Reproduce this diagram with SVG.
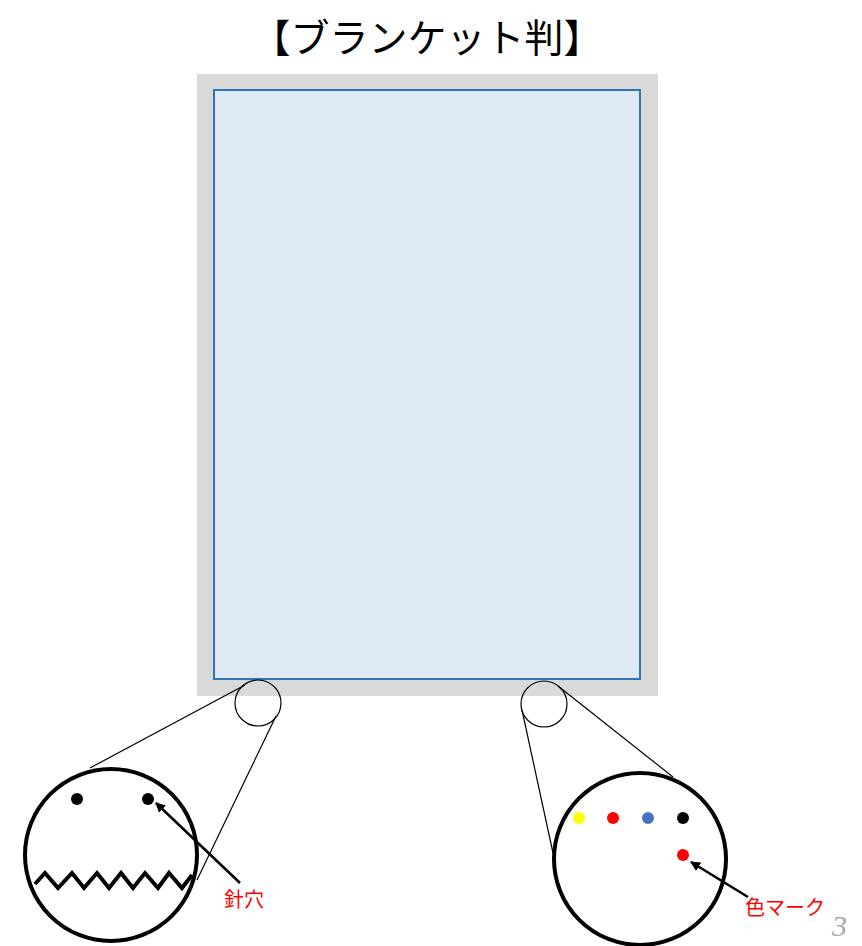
<svg xmlns="http://www.w3.org/2000/svg" width="862" height="946" viewBox="0 0 862 946">
<defs>
<style>
.thin{fill:none;stroke:#000;stroke-width:1.2}
.big{fill:#fff;stroke:#000;stroke-width:4}
.lbl{font-family:"Noto Sans CJK JP","Noto Sans",sans-serif;font-size:20px;fill:#FF0000}
.arr{stroke:#000;stroke-width:2.5;fill:none}
</style>
<marker id="ah" viewBox="0 0 10 10" refX="9" refY="5" markerWidth="4" markerHeight="4" orient="auto">
<path d="M0,0 L10,5 L0,10 z" fill="#000"/>
</marker>
</defs>
<rect width="862" height="946" fill="#fff"/>
<text x="427" y="52" text-anchor="middle" font-family="Noto Sans CJK JP, sans-serif" font-size="39" fill="#000">【ブランケット判】</text>
<g id="sheet">
<rect x="197" y="74" width="461" height="622" fill="#D9D9D9"/>
<rect x="214" y="90" width="426" height="589" fill="#DEEAF6" stroke="#2E75B6" stroke-width="2"/>
</g>
<g id="connectors">
<line class="thin" x1="245" y1="685" x2="90" y2="768"/>
<line class="thin" x1="276" y1="716" x2="197" y2="880"/>
<line class="thin" x1="522" y1="710" x2="553" y2="853"/>
<line class="thin" x1="558" y1="686" x2="673" y2="777"/>
</g>
<g id="left-small"><circle class="thin" cx="258" cy="703" r="23"/></g>
<g id="right-small"><circle class="thin" cx="544" cy="704" r="23"/></g>
<g id="left-zoom">
<circle class="big" cx="111" cy="855" r="86"/>
<circle cx="77" cy="799" r="6" fill="#000"/>
<circle cx="148" cy="799" r="6" fill="#000"/>
<polyline points="35,884 45,873 58,888 72,873 84,888 97,873 109,888 121,873 133,888 145,873 158,888 169,873 182,888 192,875" fill="none" stroke="#000" stroke-width="4" stroke-linejoin="miter"/>
</g>
<g id="right-zoom">
<circle class="big" cx="640" cy="859" r="86"/>
<circle cx="579" cy="818" r="6" fill="#FFFF00"/>
<circle cx="613" cy="818" r="6" fill="#FF0000"/>
<circle cx="648" cy="818" r="6" fill="#4472C4"/>
<circle cx="683" cy="818" r="6" fill="#000"/>
<circle cx="683" cy="855" r="6" fill="#FF0000"/>
</g>
<g id="labels">
<line class="arr" x1="240" y1="883" x2="156" y2="803" marker-end="url(#ah)"/>
<text class="lbl" x="244" y="907" text-anchor="middle">針穴</text>
<line class="arr" x1="748" y1="897" x2="691" y2="862" marker-end="url(#ah)"/>
<text class="lbl" x="785" y="915" text-anchor="middle">色マーク</text>
</g>
<text x="832" y="936" font-family="Liberation Serif, serif" font-style="italic" font-size="30" fill="#A6A6A6">3</text>
</svg>
